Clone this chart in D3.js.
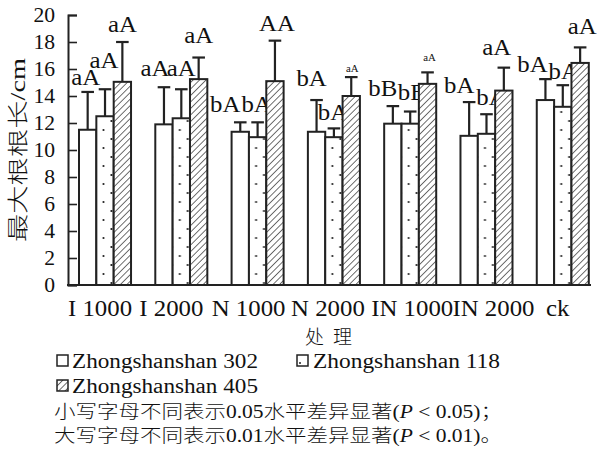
<!DOCTYPE html>
<html>
<head>
<meta charset="utf-8">
<script src="https://cdn.jsdelivr.net/npm/d3@7/dist/d3.min.js"></script>
<style>
  html, body { margin: 0; padding: 0; background: #fff; }
  svg { display: block; }
  text { fill: #111; }
</style>
</head>
<body>
<svg id="chart" width="597" height="461"></svg>
<script>
// Treatments and cultivars
const categories = ["I 1000", "I 2000", "N 1000", "N 2000", "IN 1000", "IN 2000", "ck"];
const seriesNames = ["Zhongshanshan 302", "Zhongshanshan 118", "Zhongshanshan 405"];

// Mean maximum root length (cm)
const mean302 = [11.5, 11.9, 11.35, 11.35, 11.95, 11.05, 13.7];
const mean118 = [12.5, 12.35, 10.95, 10.95, 11.95, 11.2, 13.2];
const mean405 = [15.05, 15.25, 15.1, 14.0, 14.9, 14.4, 16.45];

// Standard errors (upper bars only)
const err302 = [2.8, 2.75, 0.7, 2.35, 1.3, 2.5, 1.55];
const err118 = [2.0, 2.15, 1.1, 0.65, 0.9, 1.45, 1.6];
const err405 = [2.95, 1.6, 3.0, 1.4, 0.85, 1.7, 1.15];

// Significance letters
const sig302 = ["aA", "aA", "bA", "bA", "bB", "bA", "bA"];
const sig118 = ["aA", "aA", "bA", "bA", "bB", "bA", "bA"];
const sig405 = ["aA", "aA", "AA", "aA", "aA", "aA", "aA"];

const yTicks = [0, 2, 4, 6, 8, 10, 12, 14, 16, 18, 20];

// Hand placement of the letters: [dx from bar centre, gap above cap, font size]
const sigPlace = [
  [[-2, 7, 23], [-1, 21, 23], [0, 10, 23]],
  [[-9, 11, 23], [0, 13, 23], [0, 15, 23]],
  [[-15, 10, 23], [-1, 10, 23], [2, 10, 23]],
  [[-5, 14, 23], [-1, 8, 23], [1, 5, 10]],
  [[-10, 10, 23], [2, 12, 23], [2, 11, 10]],
  [[-10, 9, 23], [5, 9, 23], [-7, 13, 23]],
  [[-13, 7, 23], [1, 6, 23], [2, 13, 23]]
];
const catLabelDx = [-5, -10, -9, -6, 2, 7, -5];

const SERIF = "'Liberation Serif', 'Times New Roman', serif";
const CJK = "'Noto Sans CJK SC', sans-serif";

const means = [mean302, mean118, mean405];
const errs = [err302, err118, err405];
const sigs = [sig302, sig118, sig405];

const svg = d3.select("#chart");

// Fill patterns
const defs = svg.append("defs");
const dots = defs.append("pattern").attr("id", "dots")
  .attr("patternUnits", "userSpaceOnUse").attr("width", 16).attr("height", 18);
dots.append("rect").attr("width", 16).attr("height", 18).attr("fill", "#fff");
dots.append("circle").attr("cx", 8.5).attr("cy", 4).attr("r", 1.1).attr("fill", "#222");
dots.append("circle").attr("cx", 0.5).attr("cy", 13).attr("r", 1.1).attr("fill", "#222");
dots.append("circle").attr("cx", 16.5).attr("cy", 13).attr("r", 1.1).attr("fill", "#222");

const hatch = defs.append("pattern").attr("id", "hatch")
  .attr("patternUnits", "userSpaceOnUse").attr("width", 4.6).attr("height", 4.6)
  .attr("patternTransform", "rotate(45)");
hatch.append("rect").attr("width", 4.6).attr("height", 4.6).attr("fill", "#fff");
hatch.append("line").attr("x1", 0).attr("y1", 0).attr("x2", 0).attr("y2", 4.6)
  .attr("stroke", "#222").attr("stroke-width", 1.3);

const fills = ["#fff", "url(#dots)", "url(#hatch)"];

// Scales
const x0 = d3.scaleBand().domain(categories).range([79, 588.8]).paddingInner(0.318).paddingOuter(0);
const x1 = d3.scaleBand().domain(d3.range(3)).range([0, x0.bandwidth()]);
const y = d3.scaleLinear().domain([0, 20]).range([285, 15]);

// Text with a slight horizontal stretch
function stretchText(g, x, yy, str, size, sx, anchor) {
  return g.append("text")
    .attr("transform", `translate(${x},${yy}) scale(${sx},1)`)
    .attr("text-anchor", anchor || "middle")
    .style("font-family", SERIF)
    .attr("font-size", size)
    .text(str);
}

// Y axis
const yAxis = d3.axisLeft(y).tickValues(yTicks).tickSize(-9).tickPadding(13).tickFormat(d3.format("d"));
const gy = svg.append("g").attr("transform", "translate(68,0)").call(yAxis);
gy.select(".domain").attr("stroke", "#222").attr("stroke-width", 2);
gy.selectAll(".tick line").attr("stroke", "#222").attr("stroke-width", 1.6);
gy.selectAll(".tick text").attr("font-size", 20).attr("fill", "#111")
  .style("font-family", SERIF).attr("dy", "0.34em")
  .attr("transform", "scale(1.08,1)").attr("x", -13 / 1.08);

// X axis line
const gx = svg.append("g").attr("transform", "translate(0,285)");
gx.append("line").attr("x1", 67).attr("x2", 591).attr("y1", 0).attr("y2", 0)
  .attr("stroke", "#222").attr("stroke-width", 2);

// Bars, error bars and letters
const groups = svg.append("g").selectAll("g").data(categories).join("g")
  .attr("transform", d => `translate(${x0(d)},0)`);

groups.each(function (cat, ci) {
  const g = d3.select(this);
  for (let s = 0; s < 3; s++) {
    const v = means[s][ci];
    const e = errs[s][ci];
    const bx = x1(s);
    const bw = x1.bandwidth();
    const cx = bx + bw / 2;
    g.append("line").attr("x1", cx).attr("x2", cx).attr("y1", y(v)).attr("y2", y(v + e))
      .attr("stroke", "#222").attr("stroke-width", 2.2);
    g.append("line").attr("x1", cx - 6.3).attr("x2", cx + 6.3).attr("y1", y(v + e)).attr("y2", y(v + e))
      .attr("stroke", "#222").attr("stroke-width", 2.2);
    g.append("rect").attr("x", bx).attr("y", y(v)).attr("width", bw).attr("height", y(0) - y(v))
      .attr("fill", fills[s]).attr("stroke", "#222").attr("stroke-width", 2);
    const p = sigPlace[ci][s];
    stretchText(g, cx + p[0], y(v + e) - p[1], sigs[s][ci], p[2], 1.08);
  }
});

// Category labels
categories.forEach((c, i) => {
  stretchText(svg, x0(c) + x0.bandwidth() / 2 + catLabelDx[i], 315.5, c, 23, 1.08);
});

// Axis titles
svg.append("text").attr("x", 305).attr("y", 343.5).attr("font-size", 19)
  .style("font-family", CJK).attr("font-weight", 300)
  .attr("textLength", 47).attr("lengthAdjust", "spacing").text("处理");

const yt = svg.append("text").attr("transform", "translate(25,150) rotate(-90)")
  .attr("text-anchor", "middle").attr("font-size", 21).attr("font-weight", 300)
  .attr("textLength", 184).attr("lengthAdjust", "spacingAndGlyphs");
yt.append("tspan").style("font-family", CJK).text("最大根根长");
yt.append("tspan").style("font-family", SERIF).attr("font-weight", 400).text("/cm");

// Legend
const legendItems = [
  { i: 0, sx: 57, sy: 355, tx: 72, ty: 368, w: 186 },
  { i: 1, sx: 297, sy: 355, tx: 313, ty: 368, w: 187 },
  { i: 2, sx: 57, sy: 380, tx: 72, ty: 393, w: 186 }
];
const lg = svg.append("g");
legendItems.forEach(it => {
  lg.append("rect").attr("x", it.sx).attr("y", it.sy).attr("width", 11).attr("height", 11)
    .attr("fill", it.i === 1 ? "#fff" : fills[it.i]).attr("stroke", "#222").attr("stroke-width", 1.5);
  if (it.i === 1) {
    lg.append("circle").attr("cx", it.sx + 3).attr("cy", it.sy + 8).attr("r", 1).attr("fill", "#222");
  }
  lg.append("text").attr("x", it.tx).attr("y", it.ty).attr("font-size", 20)
    .style("font-family", SERIF)
    .attr("textLength", it.w).attr("lengthAdjust", "spacingAndGlyphs").text(seriesNames[it.i]);
});

// Significance notes
function note(yy, level, end) {
  const t = svg.append("text").attr("x", 54).attr("y", yy).attr("font-size", 18)
    .style("font-family", SERIF)
    .attr("textLength", 448).attr("lengthAdjust", "spacingAndGlyphs");
  t.append("tspan").style("font-family", CJK).attr("font-weight", 300).text(level === "0.05" ? "小写字母不同表示" : "大写字母不同表示");
  t.append("tspan").text(level);
  t.append("tspan").style("font-family", CJK).attr("font-weight", 300).text("水平差异显著");
  t.append("tspan").text("(");
  t.append("tspan").attr("font-style", "italic").text("P");
  t.append("tspan").text(" < " + level + ")");
  t.append("tspan").style("font-family", CJK).attr("font-weight", 300).text(end);
}
note(418, "0.05", "；");
note(442, "0.01", "。");
</script>
</body>
</html>
